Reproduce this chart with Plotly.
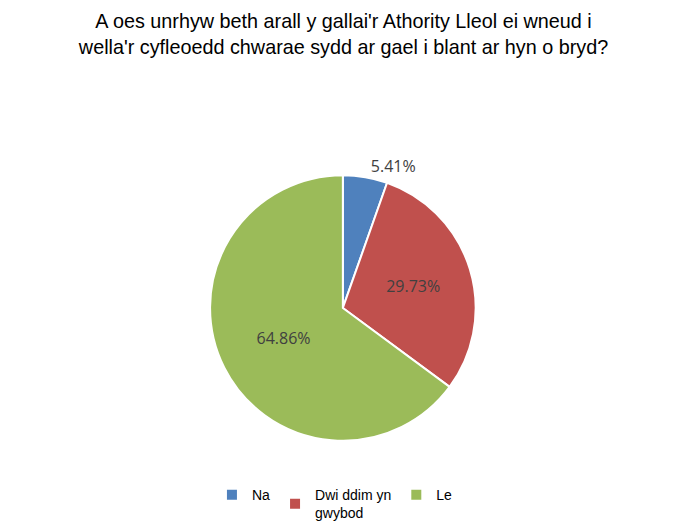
import plotly.graph_objects as go

labels = ["Na", "Dwi ddim yn<br>gwybod", "Le"]
values = [2, 11, 24]
colors = ["#4F81BD", "#C0504D", "#9BBB59"]
text_pos = ["outside", "inside", "inside"]

fig = go.Figure(
    data=go.Pie(
        labels=labels,
        values=values,
        sort=False,
        direction="clockwise",
        rotation=0,
        marker=dict(colors=colors, line=dict(color="white", width=2)),
        texttemplate="%{percent:.2%}",
        textposition=text_pos,
        insidetextorientation="horizontal",
        textfont=dict(family="Open Sans", size=16, color="#404040"),
        domain=dict(x=[0, 0.972], y=[0.182, 0.684]),
        hoverinfo="label+percent",
    )
)

fig.update_layout(
    width=689,
    height=529,
    margin=dict(l=0, r=0, t=0, b=0, autoexpand=False),
    paper_bgcolor="white",
    title=dict(
        text="A oes unrhyw beth arall y gallai'r Athority Lleol ei wneud i<br>wella'r cyfleoedd chwarae sydd ar gael i blant ar hyn o bryd?",
        x=0.487,
        xanchor="center",
        y=0.962,
        yanchor="top",
        font=dict(family="Liberation Sans", size=19.8, color="black"),
    ),
    legend=dict(
        orientation="h",
        x=0.296,
        xanchor="left",
        y=0.015,
        yanchor="bottom",
        font=dict(family="Liberation Sans", size=14, color="black"),
        traceorder="normal",
    ),
)

fig.write_html("out.html")
